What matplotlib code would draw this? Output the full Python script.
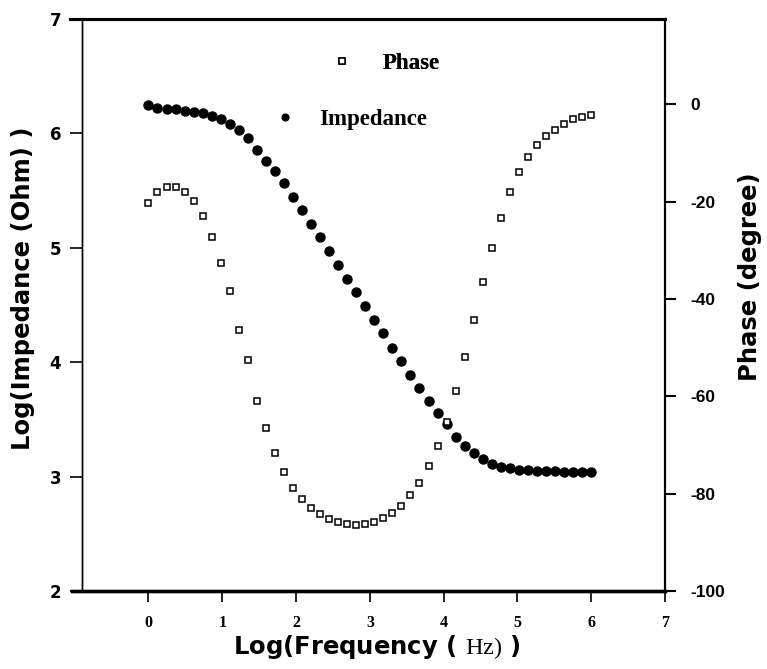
import numpy as np
import matplotlib
matplotlib.use("Agg")
import matplotlib.pyplot as plt

plt.rcParams['axes.unicode_minus'] = False
plt.rcParams['mathtext.fontset'] = 'custom'
plt.rcParams['mathtext.rm'] = 'Liberation Serif'

# log10 of frequency (Hz), 50 points from 1 Hz to 1 MHz
log_freq = [0.000, 0.122, 0.245, 0.367, 0.490, 0.612, 0.735, 0.857, 0.980, 1.102,
            1.224, 1.347, 1.469, 1.592, 1.714, 1.837, 1.959, 2.082, 2.204, 2.327,
            2.449, 2.571, 2.694, 2.816, 2.939, 3.061, 3.184, 3.306, 3.429, 3.551,
            3.673, 3.796, 3.918, 4.041, 4.163, 4.286, 4.408, 4.531, 4.653, 4.776,
            4.898, 5.020, 5.143, 5.265, 5.388, 5.510, 5.633, 5.755, 5.878, 6.000]

# log10 of impedance (Ohm)
log_impedance = [6.245, 6.225, 6.213, 6.210, 6.200, 6.187, 6.175, 6.155, 6.123, 6.080,
                 6.030, 5.957, 5.855, 5.756, 5.674, 5.564, 5.444, 5.330, 5.208, 5.092,
                 4.975, 4.850, 4.727, 4.610, 4.491, 4.369, 4.253, 4.124, 4.013, 3.888,
                 3.777, 3.661, 3.553, 3.457, 3.349, 3.267, 3.204, 3.151, 3.107, 3.087,
                 3.073, 3.062, 3.055, 3.050, 3.047, 3.045, 3.042, 3.040, 3.038, 3.036]

# phase angle (degree)
phase = [-20.3, -18.0, -17.1, -17.1, -18.0, -19.9, -22.9, -27.2, -32.7, -38.4,
         -46.4, -52.5, -60.9, -66.6, -71.6, -75.6, -78.8, -81.1, -83.0, -84.2,
         -85.2, -85.9, -86.2, -86.4, -86.2, -85.8, -85.0, -84.0, -82.5, -80.3,
         -77.9, -74.4, -70.2, -65.3, -59.0, -52.0, -44.3, -36.6, -29.6, -23.3,
         -18.1, -14.0, -10.9, -8.4, -6.6, -5.3, -4.1, -3.1, -2.7, -2.2]

x_ticks = [0, 1, 2, 3, 4, 5, 6, 7]
left_ticks = [2, 3, 4, 5, 6, 7]
right_ticks = [0, -20, -40, -60, -80, -100]

fig = plt.figure(figsize=(7.67, 6.69), dpi=100)
ax = fig.add_axes([0.107, 0.1166, 0.760, 0.855])
ax2 = ax.twinx()

imp_line, = ax.plot(log_freq, log_impedance, linestyle='none', marker='o',
                    markersize=6.5, color='black')
ph_line, = ax2.plot(log_freq, phase, linestyle='none', marker='s',
                    markersize=4.8, markerfacecolor='white',
                    markeredgecolor='black', markeredgewidth=1.1)

ax.set_xlim(-0.9, 7.0)
ax.set_ylim(2, 7)
ax2.set_ylim(-100, 17.5)

ax.set_xticks(x_ticks)
ax.set_xticklabels([str(t) for t in x_ticks], family='Liberation Serif',
                   fontweight='bold', fontsize=11.5)
ax.set_yticks(left_ticks)
ax.set_yticklabels([str(t) for t in left_ticks], fontweight='bold', fontsize=12)
ax2.set_yticks(right_ticks)
ax2.set_yticklabels([str(t) for t in right_ticks], family='Liberation Sans',
                    fontweight='bold', fontsize=12.5)

ax.tick_params(axis='x', direction='out', length=8, width=1.2, pad=9)
ax.tick_params(axis='y', direction='out', length=9, width=1.2, pad=6)
ax2.tick_params(axis='y', direction='out', length=8, width=1.5, pad=10)

for a in (ax, ax2):
    a.spines['top'].set_linewidth(2.2)
    a.spines['bottom'].set_linewidth(2.4)
    a.spines['left'].set_linewidth(1.0)
    a.spines['right'].set_linewidth(1.5)
    # top and bottom frame lines run a little past the left axis
    a.spines['top'].set_bounds(-1.06, 7.0)
    a.spines['bottom'].set_bounds(-1.03, 7.0)

ax.set_xlabel(r'Log(Frequency ( $\mathrm{Hz)}$ )', fontsize=17.5,
              fontweight='bold')
ax.xaxis.set_label_coords(0.506, -0.073)
ax.set_ylabel('Log(Impedance (Ohm) )', fontsize=17.5, fontweight='bold')
ax.yaxis.set_label_coords(-0.081, 0.53)
ax2.set_ylabel('Phase (degree)', fontsize=17.5, fontweight='bold')
ax2.yaxis.set_label_coords(1.1252, 0.549)

leg_font = {'family': 'Liberation Serif', 'weight': 'bold', 'size': 16.5}
leg1 = ax.legend([ph_line], ['Phase'], loc='center left',
                 bbox_to_anchor=(0.426, 0.923), frameon=False, prop=leg_font,
                 handlelength=1.0, handletextpad=1.28, borderpad=0,
                 borderaxespad=0, markerscale=0.8)
ax.add_artist(leg1)
leg2 = ax2.legend([imp_line], ['Impedance'], loc='center left',
                  bbox_to_anchor=(0.328, 0.825), frameon=False, prop=leg_font,
                  handlelength=1.0, handletextpad=1.02, borderpad=0,
                  borderaxespad=0, markerscale=0.75)

fig.savefig('out.png', dpi=100)
